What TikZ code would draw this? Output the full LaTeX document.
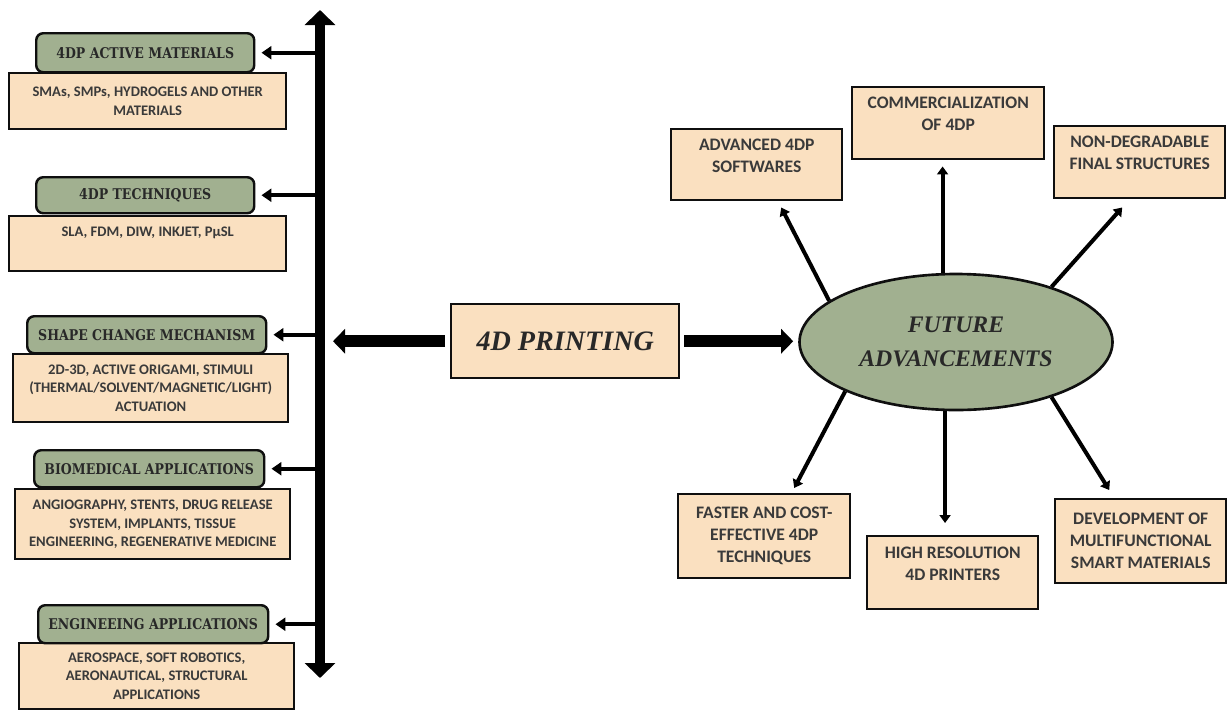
\documentclass[tikz,border=0pt]{standalone}
\usepackage{fontspec}
\setmainfont{Carlito}
\newfontfamily\headfont{Liberation Serif}
\newfontfamily\titlefont{DejaVu Serif}[FakeStretch=0.85]
\usetikzlibrary{arrows.meta,shapes.geometric}

\begin{document}
\begin{tikzpicture}[
    headbox/.style={draw=BoxBorder, fill=HeadFill, rounded corners=0.14cm,
        line width=1.4pt, anchor=north west, inner sep=0pt, text=HeadText,
        font=\titlefont\bfseries\fontsize{8.4}{10}\selectfont},
    infobox/.style={draw=BoxBorder, fill=InfoFill, line width=1.4pt,
        anchor=north west, inner sep=0pt, align=center, text=InfoText,
        font=\bfseries\fontsize{8.3}{10.3}\selectfont},
    ideabox/.style={infobox, font=\bfseries\fontsize{10}{12.5}\selectfont},
    toleft/.style={-{Triangle[width=0.26cm,length=0.2cm]}, line width=0.08cm,
        shorten >=0.12cm},
    spoke/.style={-{Triangle[width=0.22cm,length=0.16cm]}, line width=0.08cm},
    fatarrow/.style={-{Triangle[width=0.48cm,length=0.24cm]}, line width=0.24cm},
]

\definecolor{InfoFill}{RGB}{250,224,192}
\definecolor{HeadFill}{RGB}{161,176,144}
\definecolor{BoxBorder}{RGB}{15,15,15}
\definecolor{InfoText}{RGB}{58,58,58}
\definecolor{HeadText}{RGB}{40,40,40}

\useasboundingbox (0,0) rectangle (24.54,-14.2);

% ── Left column: detail boxes, then the green titles on top ──
\node[infobox, minimum width=5.54cm, minimum height=1.12cm] (matinfo) at (0.16,-1.44)
    {SMAs, SMPs, HYDROGELS AND OTHER\\MATERIALS};
\node[headbox, minimum width=4.36cm, minimum height=0.78cm] (mat) at (0.70,-0.64)
    {4DP ACTIVE MATERIALS};

\node[infobox, minimum width=5.54cm, minimum height=1.10cm] (techinfo) at (0.16,-4.30)
    {SLA, FDM, DIW, INKJET, PμSL\\[3pt]\mbox{}};
\node[headbox, minimum width=4.36cm, minimum height=0.72cm] (tech) at (0.70,-3.52)
    {4DP TECHNIQUES};

\node[infobox, minimum width=5.50cm, minimum height=1.36cm] (shapeinfo) at (0.24,-7.06)
    {2D-3D, ACTIVE ORIGAMI, STIMULI\\(THERMAL/SOLVENT/MAGNETIC/LIGHT)\\ACTUATION};
\node[headbox, minimum width=4.78cm, minimum height=0.74cm] (shape) at (0.52,-6.30)
    {SHAPE CHANGE MECHANISM};

\node[infobox, minimum width=5.50cm, minimum height=1.40cm] (bioinfo) at (0.28,-9.76)
    {ANGIOGRAPHY, STENTS, DRUG RELEASE\\SYSTEM, IMPLANTS, TISSUE\\ENGINEERING, REGENERATIVE MEDICINE};
\node[headbox, minimum width=4.60cm, minimum height=0.74cm] (bio) at (0.66,-8.98)
    {BIOMEDICAL APPLICATIONS};

\node[infobox, minimum width=5.50cm, minimum height=1.32cm] (enginfo) at (0.36,-12.84)
    {AEROSPACE, SOFT ROBOTICS,\\AERONAUTICAL, STRUCTURAL\\APPLICATIONS};
\node[headbox, minimum width=4.60cm, minimum height=0.76cm] (eng) at (0.74,-12.08)
    {ENGINEEING APPLICATIONS};

% ── Vertical spine with the arrows to the titles ──
\coordinate (spinetop) at (6.40,-0.20);
\coordinate (spinebot) at (6.40,-13.56);
\foreach \t in {mat,tech,shape,bio,eng}
    \draw[toleft] (spinetop |- \t.east) -- (\t.east);
\draw[{Triangle[width=0.6cm,length=0.3cm]}-{Triangle[width=0.6cm,length=0.3cm]},
    line width=0.2cm] (spinebot) -- (spinetop);

% ── Centre box and the ellipse ──
\node[infobox, minimum width=4.56cm, minimum height=1.48cm, text=HeadText,
    font=\headfont\bfseries\itshape\fontsize{16}{18}\selectfont] (print) at (9.00,-6.06)
    {4D PRINTING};

\node[ellipse, draw=BoxBorder, fill=HeadFill, line width=1.5pt,
    minimum width=6.26cm, minimum height=2.72cm, inner sep=0pt,
    align=center, text=HeadText,
    font=\headfont\bfseries\itshape\fontsize{13.5}{19}\selectfont] (future) at (19.12,-6.84)
    {FUTURE\\ADVANCEMENTS};

\draw[fatarrow, shorten <=0.1cm, shorten >=0.26cm] (print.west) -- (print.west -| spinetop);
\draw[fatarrow, shorten <=0.08cm, shorten >=0.1cm] (print.east) -- (print.east -| future.west);

% ── Future boxes round the ellipse ──
\node[ideabox, minimum width=3.42cm, minimum height=1.42cm] (soft) at (13.40,-2.56)
    {ADVANCED 4DP\\SOFTWARES\\[-2pt]\mbox{}};
\node[ideabox, minimum width=3.84cm, minimum height=1.44cm] (comm) at (17.02,-1.72)
    {COMMERCIALIZATION\\OF 4DP\\[-2pt]\mbox{}};
\node[ideabox, minimum width=3.42cm, minimum height=1.44cm] (final) at (21.06,-2.50)
    {NON-DEGRADABLE\\FINAL STRUCTURES\\[-2pt]\mbox{}};
\node[ideabox, minimum width=3.44cm, minimum height=1.68cm] (fast) at (13.54,-9.86)
    {FASTER AND COST-\\EFFECTIVE 4DP\\TECHNIQUES};
\node[ideabox, minimum width=3.42cm, minimum height=1.46cm] (printer) at (17.32,-10.70)
    {HIGH RESOLUTION\\4D PRINTERS\\[-2pt]\mbox{}};
\node[ideabox, minimum width=3.42cm, minimum height=1.68cm] (smart) at (21.08,-9.96)
    {DEVELOPMENT OF\\MULTIFUNCTIONAL\\SMART MATERIALS};

\draw[spoke] (future.162) -- ([xshift=0.49cm,yshift=-0.12cm]soft.south);
\draw[spoke, shorten >=0.12cm] (future.101) -- (future.101 |- comm.south);
\draw[spoke] (future.30) -- ([xshift=-0.35cm,yshift=-0.16cm]final.south);
\draw[spoke] (future.204) -- ([xshift=0.60cm,yshift=0.10cm]fast.north);
\draw[spoke, shorten >=0.24cm] (future.261) -- (future.261 |- printer.north);
\draw[spoke] (future.330) -- ([xshift=-0.63cm,yshift=0.16cm]smart.north);

\end{tikzpicture}
\end{document}
